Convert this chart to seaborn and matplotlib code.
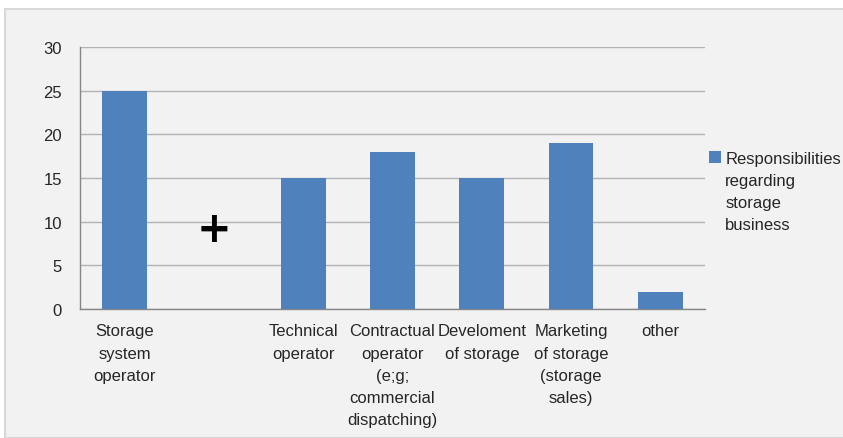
import numpy as np
import pandas as pd
import seaborn as sns
import matplotlib.pyplot as plt
from matplotlib.patches import Rectangle

# data
categories = ["Storage\nsystem\noperator", "", "Technical\noperator",
              "Contractual\noperator\n(e;g;\ncommercial\ndispatching)",
              "Develoment\nof storage", "Marketing\nof storage\n(storage\nsales)", "other"]
values = [25, np.nan, 15, 18, 15, 19, 2]
series_name = "Responsibilities\nregarding\nstorage\nbusiness"
y_ticks = [0, 5, 10, 15, 20, 25, 30]

bg = "#f2f2f2"
bar_color = "#4f81bd"

sns.set_style("white")
plt.rcParams['font.family'] = ['Liberation Sans', 'DejaVu Sans']

df = pd.DataFrame({"cat": [f"c{i}" for i in range(len(categories))], "val": values})

fig = plt.figure(figsize=(8.43, 4.39), dpi=100)
fig.patch.set_facecolor("white")
# chart area panel with grey border
fig.patches.append(Rectangle((5 / 843, 0), 1, 1 - 10 / 439, transform=fig.transFigure,
                             facecolor=bg, edgecolor="#d9d9d9", linewidth=1.5, zorder=-10))

ax = fig.add_axes([80 / 843, 1 - 310 / 439, 625 / 843, 262 / 439])
ax.set_facecolor(bg)

sns.barplot(data=df, x="cat", y="val", color=bar_color, width=0.5, saturation=1,
            label=series_name, ax=ax, zorder=3, edgecolor=bar_color, linewidth=0)

ax.set_ylim(0, 30)
ax.set_yticks(y_ticks)
ax.set_xlim(-0.5, len(categories) - 0.5)
ax.yaxis.grid(True, color="#b3b3b3", linewidth=1, zorder=0)
ax.set_axisbelow(True)

for s in ["top", "right"]:
    ax.spines[s].set_visible(False)
for s in ["left", "bottom"]:
    ax.spines[s].set_color("#868686")
    ax.spines[s].set_linewidth(1)

# category labels centered, ticks on boundaries
ax.set_xticks(np.arange(len(categories) + 1) - 0.5)
ax.set_xticklabels([])
ax.tick_params(axis="x", length=5, color="#868686", direction="out")
ax.tick_params(axis="y", length=5, color="#868686", direction="out", labelsize=12, pad=8)
for i, lab in enumerate(categories):
    ax.text(i, -1.65, lab, ha="center", va="top", fontsize=12, linespacing=1.6,
            color="#262626")

ax.set_xlabel("")
ax.set_ylabel("")

# the "+" mark in the empty slot
ax.text(1, 9.2, "+", ha="center", va="center", fontsize=30, fontweight="bold",
        color="black", family="DejaVu Sans")

leg = ax.legend(loc="upper left", bbox_to_anchor=(0.995, 0.63), frameon=False,
                fontsize=12, handlelength=0.75, handleheight=0.75, handletextpad=0.25,
                borderaxespad=0)
for t in leg.get_texts():
    t.set_linespacing(1.6)
    t.set_color("#262626")
# put the legend square next to the first line
for col in leg._legend_handle_box.get_children():
    for item in col.get_children():
        item.align = "top"

fig.savefig("out.png", dpi=100, facecolor=fig.get_facecolor())
